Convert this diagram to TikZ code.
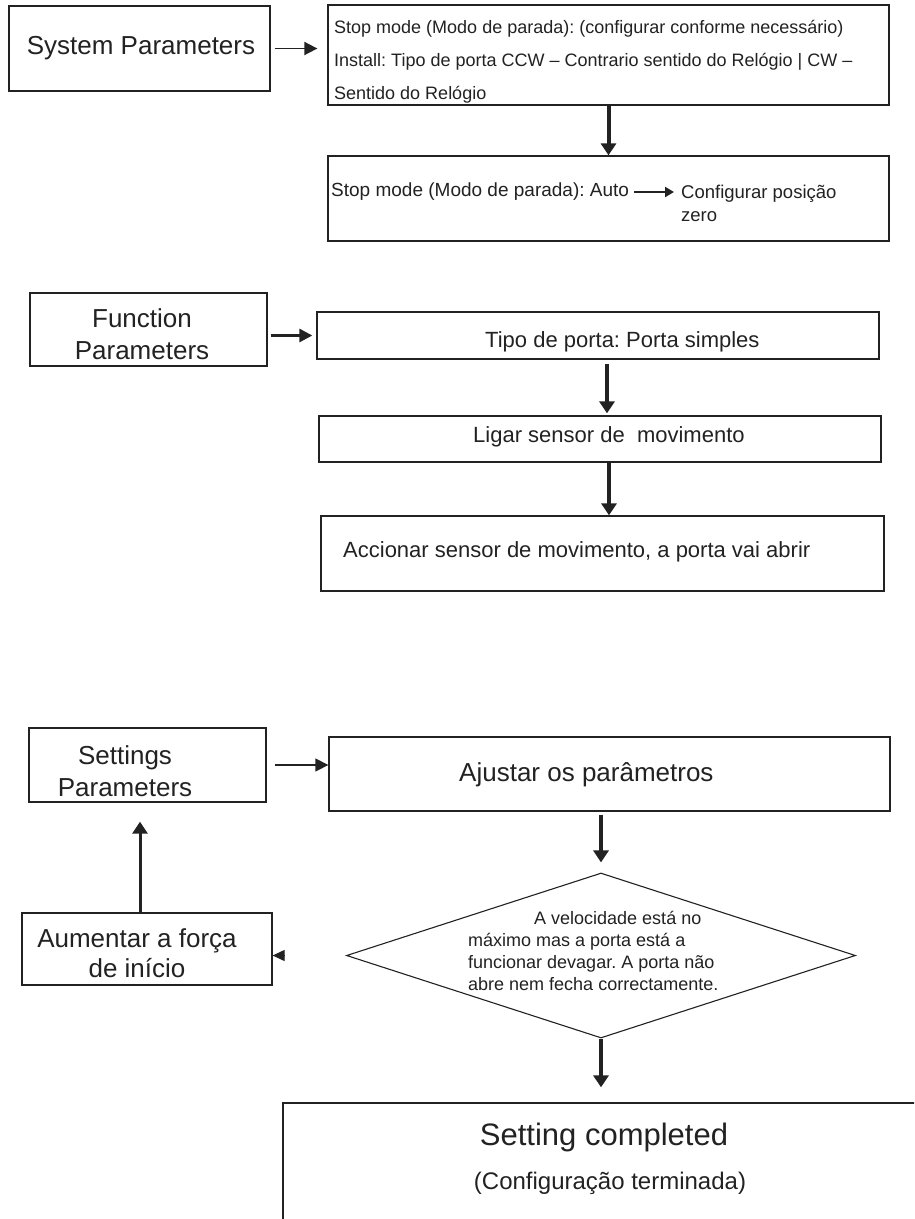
\documentclass[tikz,border=0pt]{standalone}
\usepackage{fontspec}
\setmainfont{Liberation Sans}
\usetikzlibrary{shapes.geometric,arrows.meta}
\frenchspacing

\definecolor{ink}{HTML}{222222}
\newcommand{\txtsize}[2]{\fontsize{#1pt}{#2pt}\selectfont}

\tikzset{
  box/.style={draw=ink, line width=1.3pt, inner sep=0pt},
  txt/.style={inner sep=0pt, text=ink, anchor=west},
  thin arrow/.style={draw=ink, line width=1.8pt, -{Triangle[width=13pt,length=13pt]}},
  small arrow/.style={draw=ink, line width=2.4pt, -{Triangle[width=10pt,length=9pt]}},
  thick arrow/.style={draw=ink, line width=4pt, -{Triangle[width=15pt,length=12pt]}},
}

\begin{document}
\begin{tikzpicture}[x=1pt,y=-1pt]
    \useasboundingbox (0,0) rectangle (914,1219);
    \fill[white] (0,0) rectangle (914,1219);
    \clip (0,0) rectangle (914,1219);

    % System parameters
    \node[box, minimum width=261pt, minimum height=85pt] (sys) at (139.5,48.5) {};
    \node[txt, anchor=center, font=\txtsize{26}{30}] (sysTxt) at (141,48) {System Parameters};
    \node[box, minimum width=561pt, minimum height=100pt] (stop) at (608.5,55) {};
    \node[txt, font=\txtsize{18}{33}, align=left] (stopTxt) at (334,62)
        {Stop mode (Modo de parada): (configurar conforme necessário)\\
         Install: Tipo de porta CCW – Contrario sentido do Relógio | CW –\\
         Sentido do Relógio};
    \node[box, minimum width=561pt, minimum height=85pt] (auto) at (608.5,198.5) {};
    \node[txt, font=\txtsize{19}{23}] (autoTxt) at (331,192) {Stop mode (Modo de parada): Auto};
    \node[txt, font=\txtsize{18.5}{23}, align=left] (zeroTxt) at (681,203.5) {Configurar posição\\zero};

    \draw[thin arrow, shorten <=4pt, shorten >=10pt] (sys.east) -- (stop.west |- sys.east);
    \draw[thick arrow] (stop.south) -- (auto.north);
    \draw[small arrow, shorten <=5pt, shorten >=7pt] (autoTxt.east) -- (autoTxt.east -| zeroTxt.west);

    % Function parameters
    \node[box, minimum width=237pt, minimum height=73pt] (func) at (148.5,329.5) {};
    \node[txt, anchor=center, align=center, font=\txtsize{26}{32}] (funcTxt) at (142,334)
        {Function\\Parameters};
    \node[box, minimum width=562pt, minimum height=47pt] (tipo) at (598,335.5) {};
    \node[txt, font=\txtsize{22}{26}] (tipoTxt) at (485,342) {Tipo de porta: Porta simples};
    \node[box, minimum width=562pt, minimum height=46pt] (ligar) at (600,439) {};
    \node[txt, font=\txtsize{22}{26}] (ligarTxt) at (473,437) {Ligar sensor de\ \ movimento};
    \node[box, minimum width=563pt, minimum height=75pt] (acc) at (602.5,553.5) {};
    \node[txt, font=\txtsize{22}{26}] (accTxt) at (343,552) {Accionar sensor de movimento, a porta vai abrir};

    \draw[thin arrow, line width=2.8pt, shorten <=3pt, shorten >=4pt] (func.east |- tipo.west) -- (tipo.west);
    \draw[thick arrow, shorten <=4pt, shorten >=2pt] ([xshift=9pt]tipo.south) -- ([xshift=9pt]tipo.south |- ligar.north);
    \draw[thick arrow] ([xshift=9pt]ligar.south) -- ([xshift=9pt]ligar.south |- acc.north);

    % Settings parameters
    \node[box, minimum width=237pt, minimum height=74pt] (set) at (147.5,765) {};
    \node[txt, anchor=center, align=center, font=\txtsize{26}{32}] (setTxt) at (125,771)
        {Settings\\Parameters};
    \node[box, minimum width=561pt, minimum height=74pt] (adj) at (609.5,774) {};
    \node[txt, font=\txtsize{26}{30}] (adjTxt) at (459,775) {Ajustar os parâmetros};
    \node[diamond, draw=ink, line width=1.1pt, inner sep=0pt,
          minimum width=509pt, minimum height=165pt] (chk) at (601,955.5) {};
    \node[txt, align=left, font=\txtsize{18}{22}] (chkTxt) at (468,951)
        {\hspace*{66pt}A velocidade está no\\
         máximo mas a porta está a\\
         funcionar devagar. A porta não\\
         abre nem fecha correctamente.};
    \node[box, minimum width=250pt, minimum height=72pt] (aum) at (147,949) {};
    \node[txt, anchor=center, align=center, font=\txtsize{26}{30}] (aumTxt) at (137,953)
        {Aumentar a força\\de início};
    \node[box, minimum width=667pt, minimum height=157pt] (done) at (616.5,1181.5) {};
    \node[txt, anchor=center, font=\txtsize{31}{36}] (doneTxt) at (604,1137) {Setting completed};
    \node[txt, anchor=center, font=\txtsize{24}{28}] (doneSub) at (610,1183) {(Configuração terminada)};

    \draw[thin arrow, line width=1.3pt, shorten <=8pt] (set.east) -- (adj.west |- set.east);
    \draw[thick arrow, shorten <=3pt, shorten >=10pt] (adj.south -| chk.north) -- (chk.north);
    \draw[thick arrow, shorten >=15pt] (chk.south) -- (chk.south |- done.north);
    \draw[thick arrow, line width=3pt, shorten >=19pt] ([xshift=-7pt]aum.north) -- ([xshift=-7pt]aum.north |- set.south);
    \draw[draw=ink, line width=1pt, -{Triangle[width=11pt,length=12pt]}]
        ([xshift=12pt]aum.east |- chk.west) -- (aum.east |- chk.west);
\end{tikzpicture}
\end{document}
